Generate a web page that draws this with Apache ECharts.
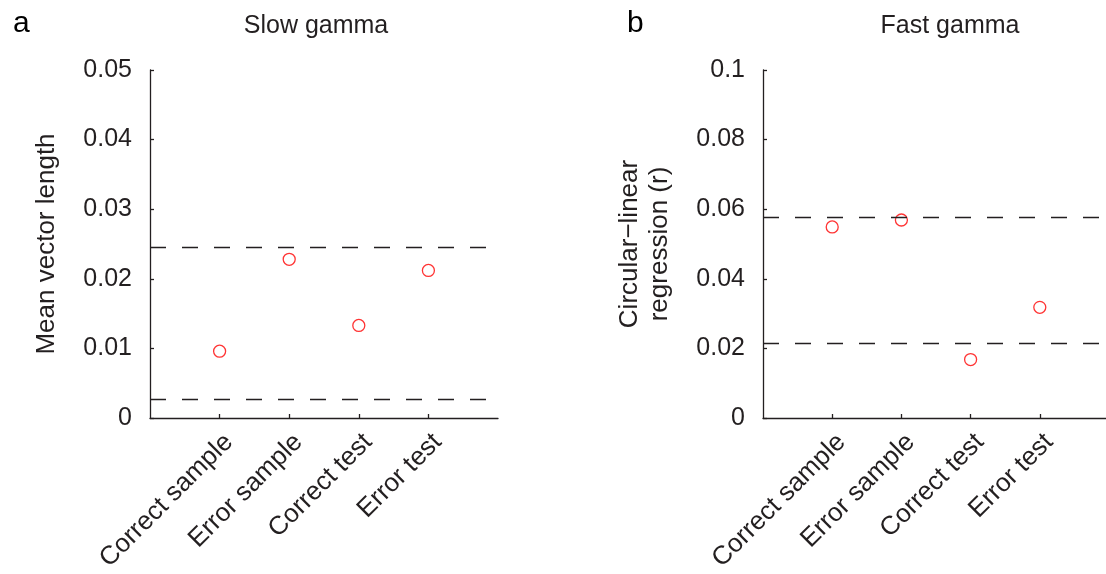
<!DOCTYPE html>
<html>
<head>
<meta charset="utf-8">
<script src="https://cdn.jsdelivr.net/npm/echarts@6/dist/echarts.min.js"></script>
<style>
html,body{margin:0;padding:0;background:#fff;}
#chart{width:1106px;height:574px;}
</style>
</head>
<body>
<div id="chart"></div>
<script>
var categories = ['Correct sample', 'Error sample', 'Correct test', 'Error test'];
var slowValues = [0.0096, 0.0228, 0.0133, 0.0212];
var slowThresholds = [0.0245, 0.0027];
var fastValues = [0.0549, 0.0569, 0.0168, 0.0318];
var fastThresholds = [0.0576, 0.0214];
var slowTicks = {min: 0, max: 0.05, interval: 0.01};
var fastTicks = {min: 0, max: 0.1, interval: 0.02};

var TXT = '#231f20';
var FONT = 'Liberation Sans, Arial, sans-serif';
var axisCats = [''].concat(categories).concat(['']);

function pts(vals) { return vals.map(function (v, i) { return [i + 1, v]; }); }
function showIdx(i) { return i >= 1 && i <= categories.length; }

function xAxisCfg(gi) {
  return {
    type: 'category', gridIndex: gi, data: axisCats, boundaryGap: false,
    axisLine: {show: true, lineStyle: {color: TXT, width: 1.3}},
    axisTick: {show: true, inside: true, length: 4, interval: function (i) { return showIdx(i); }, lineStyle: {color: TXT, width: 1.3}},
    axisLabel: {interval: function (i) { return showIdx(i); }, rotate: 45, margin: 11, verticalAlign: 'top', color: TXT, fontSize: 26, fontFamily: FONT},
    splitLine: {show: false}
  };
}
function yAxisCfg(gi, t, name) {
  return {
    type: 'value', gridIndex: gi, min: t.min, max: t.max, interval: t.interval,
    name: name, nameLocation: 'middle', nameGap: 88, nameRotate: 90,
    nameTextStyle: {color: TXT, fontSize: 26, fontFamily: FONT, lineHeight: 30},
    axisLine: {show: true, lineStyle: {color: TXT, width: 1.3}},
    axisTick: {show: true, inside: true, length: 4, lineStyle: {color: TXT, width: 1.3}},
    axisLabel: {margin: 18, color: TXT, fontSize: 25, fontFamily: FONT},
    splitLine: {show: false}
  };
}
function seriesCfg(gi, vals, thr) {
  return {
    type: 'scatter', xAxisIndex: gi, yAxisIndex: gi, data: pts(vals),
    symbol: 'circle', symbolSize: 12,
    itemStyle: {color: '#fff', borderColor: '#ff0000', borderWidth: 1.3},
    markLine: {
      silent: true, symbol: 'none', label: {show: false}, precision: 6,
      lineStyle: {color: TXT, width: 1.3, type: [16, 16]},
      data: thr.map(function (v) { return {yAxis: v}; })
    }
  };
}

var chart = echarts.init(document.getElementById('chart'), null, {renderer: 'canvas'});
chart.setOption({
  animation: false,
  backgroundColor: '#fff',
  title: [
    {text: 'a', left: 8, top: 4, textStyle: {color: '#000', fontSize: 30, fontWeight: 'normal', fontFamily: FONT}},
    {text: 'b', left: 622, top: 4, textStyle: {color: '#000', fontSize: 30, fontWeight: 'normal', fontFamily: FONT}},
    {text: 'Slow gamma', left: 311, top: 9, textAlign: 'center', textStyle: {color: TXT, fontSize: 25, fontWeight: 'normal', fontFamily: FONT}},
    {text: 'Fast gamma', left: 945, top: 9, textAlign: 'center', textStyle: {color: TXT, fontSize: 25, fontWeight: 'normal', fontFamily: FONT}}
  ],
  grid: [
    {left: 150, top: 70, width: 348, height: 348, containLabel: false, outerBoundsMode: 'none'},
    {left: 763, top: 70, width: 346, height: 348, containLabel: false, outerBoundsMode: 'none'}
  ],
  xAxis: [xAxisCfg(0), xAxisCfg(1)],
  yAxis: [yAxisCfg(0, slowTicks, 'Mean vector length'), yAxisCfg(1, fastTicks, 'Circular\u2212linear\nregression (r)')],
  series: [seriesCfg(0, slowValues, slowThresholds), seriesCfg(1, fastValues, fastThresholds)]
});
</script>
</body>
</html>
